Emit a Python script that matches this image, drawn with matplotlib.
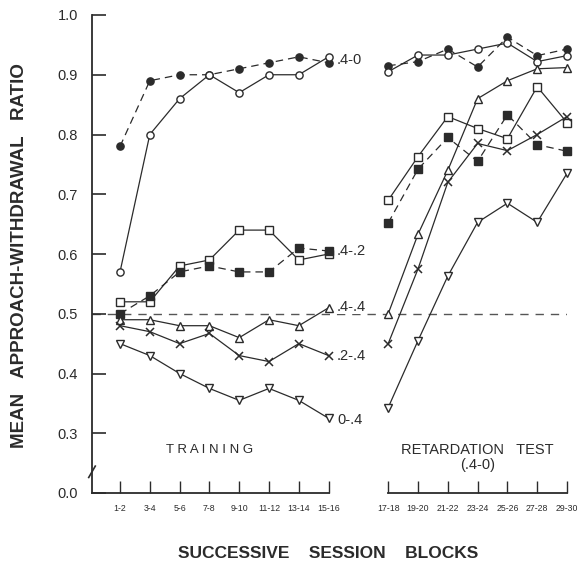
import matplotlib
matplotlib.use("Agg")
import matplotlib.pyplot as plt
import numpy as np

plt.rcParams['font.family'] = ['Liberation Sans', 'DejaVu Sans']

# session blocks
train_blocks = ["1-2", "3-4", "5-6", "7-8", "9-10", "11-12", "13-14", "15-16"]
test_blocks = ["17-18", "19-20", "21-22", "23-24", "25-26", "27-28", "29-30"]

# training phase (mean approach-withdrawal ratio)
tr_40_filled = [0.78, 0.89, 0.90, 0.90, 0.91, 0.92, 0.93, 0.92]
tr_40_open = [0.57, 0.80, 0.86, 0.90, 0.87, 0.90, 0.90, 0.93]
tr_42_open = [0.52, 0.52, 0.58, 0.59, 0.64, 0.64, 0.59, 0.60]
tr_42_filled = [0.50, 0.53, 0.57, 0.58, 0.57, 0.57, 0.61, 0.605]
tr_44 = [0.49, 0.49, 0.48, 0.48, 0.46, 0.49, 0.48, 0.51]
tr_24 = [0.48, 0.47, 0.45, 0.467, 0.43, 0.42, 0.45, 0.43]
tr_04 = [0.45, 0.43, 0.40, 0.375, 0.355, 0.375, 0.355, 0.325]

# retardation test (.4-0)
te_40_filled = [0.915, 0.922, 0.943, 0.913, 0.963, 0.932, 0.943]
te_40_open = [0.905, 0.933, 0.933, 0.943, 0.953, 0.922, 0.932]
te_42_open = [0.69, 0.763, 0.83, 0.81, 0.793, 0.88, 0.82]
te_42_filled = [0.652, 0.742, 0.795, 0.755, 0.833, 0.783, 0.772]
te_44 = [0.50, 0.633, 0.74, 0.86, 0.89, 0.91, 0.912]
te_24 = [0.45, 0.575, 0.72, 0.785, 0.773, 0.80, 0.83]
te_04 = [0.343, 0.455, 0.563, 0.653, 0.685, 0.653, 0.735]

curve_labels = [".4-0", ".4-.2", ".4-.4", ".2-.4", "0-.4"]
curve_label_vals = [0.925, 0.605, 0.512, 0.43, 0.322]

ytick_vals = [0.2, 0.3, 0.4, 0.5, 0.6, 0.7, 0.8, 0.9, 1.0]
ytick_text = ["0.0", "0.3", "0.4", "0.5", "0.6", "0.7", "0.8", "0.9", "1.0"]

ink = "#2b2b2b"
x_tr = np.arange(len(train_blocks))
x_te = np.arange(len(test_blocks)) + len(train_blocks) + 1

fig = plt.figure(figsize=(5.85, 5.62), dpi=100)
ax = fig.add_axes([92 / 585, 1 - 493 / 562, (567 - 92) / 585, (493 - 15) / 562])
ax.set_xlim(-0.94, x_te[-1])
ax.set_ylim(0.2, 1.0)

styles = [
    (tr_40_filled, te_40_filled, dict(marker="o", mfc=ink, ms=5.2, ls=(0, (6, 4)))),
    (tr_40_open, te_40_open, dict(marker="o", mfc="white", ms=5.2, ls="-")),
    (tr_42_open, te_42_open, dict(marker="s", mfc="white", ms=5.5, ls="-")),
    (tr_42_filled, te_42_filled, dict(marker="s", mfc=ink, ms=5.2, ls=(0, (6, 4)))),
    (tr_44, te_44, dict(marker="^", mfc="white", ms=6, ls="-")),
    (tr_24, te_24, dict(marker="x", mfc=ink, ms=6, ls="-", mew=1.1)),
    (tr_04, te_04, dict(marker="v", mfc="white", ms=6, ls="-")),
]
for tr, te, st in styles:
    kw = dict(color=ink, mec=ink, lw=0.9, clip_on=False, zorder=3)
    kw.update(st)
    ax.plot(x_tr, tr, **kw)
    ax.plot(x_te, te, **kw)

# reference line at 0.5
ax.axhline(0.5, color="#555555", lw=1.0, ls=(0, (6, 5)), zorder=1)

for lab, v in zip(curve_labels, curve_label_vals):
    ax.text(x_tr[-1] + 0.28, v, lab, fontsize=10.5, color=ink, va="center", ha="left",
            bbox=dict(fc="white", ec="none", pad=0.5), zorder=2)

# axes
for s in ["top", "right", "bottom"]:
    ax.spines[s].set_visible(False)
ax.spines["left"].set_color(ink)
ax.spines["left"].set_linewidth(1.3)
ax.plot([ax.get_xlim()[0], x_tr[-1]], [0.2, 0.2], color=ink, lw=1.3, clip_on=False)
ax.plot([x_te[0], x_te[-1]], [0.2, 0.2], color=ink, lw=1.3, clip_on=False)
# axis break
ax.plot([-1.05, -0.83], [0.226, 0.245], color=ink, lw=1.2, clip_on=False)

ax.set_yticks(ytick_vals)
ax.set_yticklabels(ytick_text)
ax.set_xticks(list(x_tr) + list(x_te))
ax.set_xticklabels(train_blocks + test_blocks)
ax.tick_params(axis="y", direction="in", length=10, width=1.2, colors=ink, labelsize=10.5, pad=10)
ax.tick_params(axis="x", direction="in", length=9, width=1.0, colors=ink, labelsize=6.3, pad=8)

ax.text(np.mean(x_tr[1:6]), 0.272, "T R A I N I N G", fontsize=9.5, color=ink, ha="center", va="center")
ax.text(np.mean(x_te), 0.272, "RETARDATION   TEST", fontsize=10.5, color=ink, ha="center", va="center")
ax.text(np.mean(x_te), 0.247, "(.4-0)", fontsize=10.5, color=ink, ha="center", va="center")

fig.text(20 / 585, 1 - 256 / 562, "MEAN   APPROACH-WITHDRAWAL   RATIO", rotation=90,
         fontsize=13.5, fontweight="bold", color=ink, ha="center", va="center")
fig.text(328 / 585, 1 - 553 / 562, "SUCCESSIVE    SESSION    BLOCKS",
         fontsize=12.5, fontweight="bold", color=ink, ha="center", va="center")

fig.savefig("out.png", dpi=100, facecolor="white")
